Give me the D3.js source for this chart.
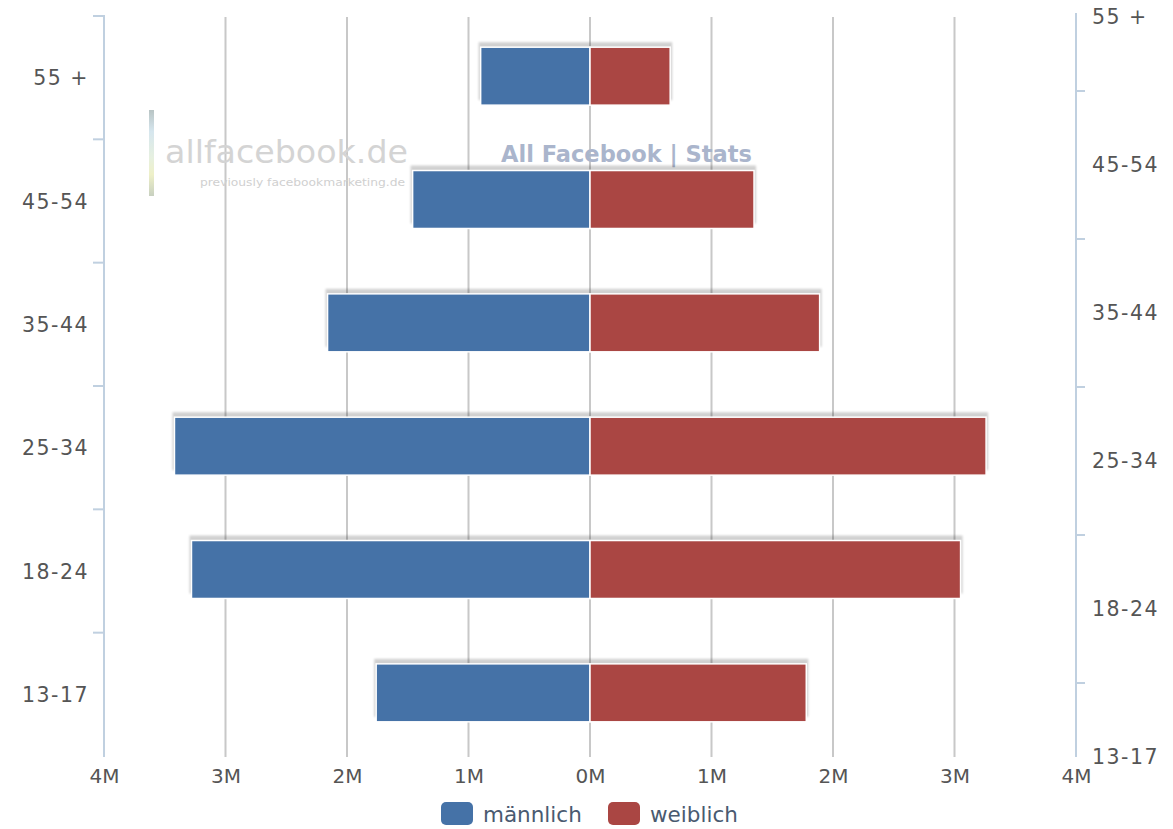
<!DOCTYPE html>
<html>
<head>
<meta charset="utf-8">
<script src="https://cdn.jsdelivr.net/npm/d3@7"></script>
<style>
  html, body { margin: 0; padding: 0; background: #fff; }
  svg { display: block; }
  text { font-family: "DejaVu Sans", Verdana, sans-serif; }
</style>
</head>
<body>
<script>
// Facebook users in Germany by age group and gender (millions)
const ageGroups = ["55 +", "45-54", "35-44", "25-34", "18-24", "13-17"];
const maleValues = [0.90, 1.46, 2.16, 3.42, 3.28, 1.76];
const femaleValues = [0.66, 1.35, 1.89, 3.26, 3.05, 1.78];
const xTickValues = [-4, -3, -2, -1, 0, 1, 2, 3, 4];
const seriesNames = ["männlich", "weiblich"];
const seriesColors = ["#4572A7", "#AA4643"];

const W = 1173, H = 829;
const plot = { left: 104, right: 1076, top: 17, bottom: 757 };

const svg = d3.select("body").append("svg").attr("width", W).attr("height", H);
const defs = svg.append("defs");
defs.append("filter").attr("id", "soft").attr("x", "-5%").attr("y", "-20%").attr("width", "110%").attr("height", "140%")
  .append("feGaussianBlur").attr("stdDeviation", 1.2);

const x = d3.scaleLinear().domain([-4, 4]).range([plot.left, plot.right]);
const y = d3.scaleBand().domain(ageGroups).range([plot.top, plot.bottom]).paddingInner(0.53).paddingOuter(0.265);
const yBand = d3.scaleBand().domain(ageGroups).range([plot.top, plot.bottom]);
const yRight = d3.scalePoint().domain(ageGroups).range([plot.top, plot.bottom]);

// Vertical grid lines
svg.append("g").selectAll("line").data(xTickValues.filter(v => v > -4 && v < 4)).join("line")
  .attr("x1", d => x(d)).attr("x2", d => x(d))
  .attr("y1", plot.top).attr("y2", plot.bottom)
  .attr("stroke", "#c8c8c8").attr("stroke-width", 2);

// Watermark
const wm = svg.append("g");
const grad = defs.append("linearGradient").attr("id", "wmbar").attr("x1", 0).attr("x2", 0).attr("y1", 0).attr("y2", 1);
[["0%", "#b8c4c4"], ["25%", "#d6e6ee"], ["55%", "#e6f0e0"], ["75%", "#eef0c8"], ["100%", "#c8d0c0"]]
  .forEach(([o, c]) => grad.append("stop").attr("offset", o).attr("stop-color", c));
wm.append("rect").attr("x", 149).attr("y", 110).attr("width", 5).attr("height", 86).attr("fill", "url(#wmbar)");
wm.append("text").attr("x", 165).attr("y", 163).attr("font-size", 32).attr("fill", "#d4d4d4")
  .attr("textLength", 243).attr("lengthAdjust", "spacingAndGlyphs")
  .attr("font-family", "Lato, 'Open Sans', sans-serif").text("allfacebook.de");
wm.append("text").attr("x", 200).attr("y", 186).attr("font-size", 10.5).attr("fill", "#d0d0d0")
  .attr("textLength", 205).attr("lengthAdjust", "spacingAndGlyphs")
  .attr("font-family", "Lato, 'Open Sans', sans-serif").text("previously  facebookmarketing.de");
wm.append("text").attr("x", 501).attr("y", 162).attr("font-size", 23).attr("font-weight", "bold")
  .attr("textLength", 251).attr("lengthAdjust", "spacingAndGlyphs")
  .attr("fill", "#aab5cc").attr("font-family", "'Liberation Sans', Arial, sans-serif").text("All Facebook | Stats");

// Bars
const rows = ageGroups.map((g, i) => ({ g, m: maleValues[i], f: femaleValues[i] }));
const barOffset = -2.5;
const bars = svg.append("g");
rows.forEach(r => {
  const y0 = y(r.g) + barOffset, h = y.bandwidth();
  // soft shadow along the top edge
  bars.append("rect")
    .attr("x", x(-r.m) - 2).attr("y", y0 - 5)
    .attr("width", x(r.f) - x(-r.m) + 4).attr("height", h)
    .attr("fill", "#000").attr("opacity", 0.18).attr("filter", "url(#soft)");
  bars.append("rect")
    .attr("x", x(-r.m)).attr("y", y0)
    .attr("width", x(0) - x(-r.m)).attr("height", h)
    .attr("fill", seriesColors[0]).attr("stroke", "#fff").attr("stroke-width", 1.5);
  bars.append("rect")
    .attr("x", x(0)).attr("y", y0)
    .attr("width", x(r.f) - x(0)).attr("height", h)
    .attr("fill", seriesColors[1]).attr("stroke", "#fff").attr("stroke-width", 1.5);
});

const axisColor = "#c0d0e0";
const labelColor = "#555";

// Left category axis
const leftAxis = svg.append("g").attr("transform", `translate(${plot.left},0)`)
  .call(d3.axisLeft(yBand).tickSize(0).tickPadding(15));
leftAxis.select(".domain").remove();
leftAxis.selectAll("text").attr("font-size", 20.5).attr("fill", labelColor).attr("letter-spacing", 1.5)
  .style("font-family", "'DejaVu Sans', sans-serif");
svg.append("line").attr("x1", plot.left).attr("x2", plot.left).attr("y1", plot.top - 2).attr("y2", plot.bottom)
  .attr("stroke", axisColor).attr("stroke-width", 2);
svg.append("g").selectAll("line").data(ageGroups).join("line")
  .attr("x1", plot.left - 11).attr("x2", plot.left)
  .attr("y1", d => yBand(d) - 1).attr("y2", d => yBand(d) - 1)
  .attr("stroke", axisColor).attr("stroke-width", 2);

// Right axis: labels on evenly spaced points, ticks at midpoints
const rightAxis = svg.append("g").attr("transform", `translate(${plot.right},0)`)
  .call(d3.axisRight(yRight).tickSize(0).tickPadding(16));
rightAxis.select(".domain").remove();
rightAxis.selectAll("text").attr("font-size", 20.5).attr("fill", labelColor).attr("letter-spacing", 1.5)
  .style("font-family", "'DejaVu Sans', sans-serif");
svg.append("line").attr("x1", plot.right).attr("x2", plot.right).attr("y1", plot.top - 4).attr("y2", plot.bottom)
  .attr("stroke", axisColor).attr("stroke-width", 2);
const mids = d3.pairs(ageGroups).map(([a, b]) => (yRight(a) + yRight(b)) / 2);
svg.append("g").selectAll("line").data(mids).join("line")
  .attr("x1", plot.right).attr("x2", plot.right + 9)
  .attr("y1", d => d).attr("y2", d => d)
  .attr("stroke", axisColor).attr("stroke-width", 2);

// Bottom value axis (labels only)
const bottomAxis = svg.append("g").attr("transform", `translate(0,${plot.bottom})`)
  .call(d3.axisBottom(x).tickValues(xTickValues).tickSize(0).tickPadding(12)
    .tickFormat(d => Math.abs(d) + "M"));
bottomAxis.select(".domain").remove();
bottomAxis.selectAll("text").attr("font-size", 20).attr("fill", labelColor)
  .style("font-family", "'DejaVu Sans', sans-serif");

// Legend
const legend = svg.append("g");
const legendItems = [{ x: 441, name: seriesNames[0], c: seriesColors[0] }, { x: 608, name: seriesNames[1], c: seriesColors[1] }];
legendItems.forEach(it => {
  legend.append("rect").attr("x", it.x).attr("y", 802).attr("width", 32).attr("height", 23)
    .attr("rx", 5).attr("fill", it.c);
  legend.append("text").attr("x", it.x + 42).attr("y", 822).attr("font-size", 21.5)
    .attr("fill", "#4a5a70").text(it.name);
});
</script>
</body>
</html>
